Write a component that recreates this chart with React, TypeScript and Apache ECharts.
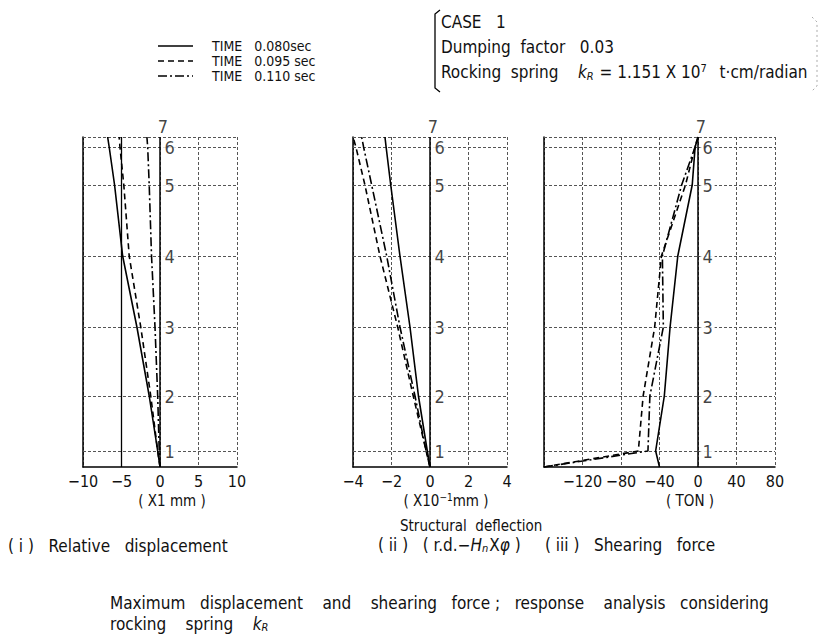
import React, { useEffect, useRef } from "react";
import * as echarts from "echarts";

// ---- data ----
const levelNames = ["1", "2", "3", "4", "5", "6", "7"];
// heights of base (index 0) and levels 1..7 (m)
const levelHeights = [0, 1.6, 7.1, 14.0, 21.1, 28.2, 32.0, 33.0];

const timeLabels = ["0.080", "0.095", "0.110"];

// (i) Relative displacement (x1 mm), base..7
const relDisp080 = [0, -0.3, -1.4, -3.0, -4.85, -5.9, -6.6, -6.8];
const relDisp095 = [0, -0.3, -1.2, -2.5, -4.0, -4.7, -5.2, -5.3];
const relDisp110 = [0, -0.1, -0.3, -0.65, -1.1, -1.4, -1.6, -1.7];

// (ii) Structural deflection (x10^-1 mm), base..7
const struct080 = [0, -0.14, -0.6, -1.04, -1.56, -2.04, -2.28, -2.34];
const struct095 = [0, -0.2, -0.87, -1.68, -2.6, -3.38, -3.85, -4.0];
const struct110 = [0, -0.2, -0.78, -1.56, -2.25, -3.03, -3.45, -3.55];

// (iii) Shearing force (TON), base..7
const shear080 = [-40, -44, -35, -29, -21, -6, -3, 0];
const shear095 = [-160, -62, -57, -45, -38, -13, -3, 0];
const shear110 = [-160, -52, -50, -36, -37, -17, -3, 0];

const FONT = "'DejaVu Sans Condensed', 'DejaVu Sans', sans-serif";
const INK = "#111";
const dashStyles: any[] = ["solid", [6, 4], [9, 3, 2, 3]];

const panels = [
  { left: 83, width: 154, min: -10, max: 10, interval: 5, series: [relDisp080, relDisp095, relDisp110], unit: "( X1 mm )", unitX: 172, extraSolid: [-5] },
  { left: 353, width: 154, min: -4, max: 4, interval: 2, series: [struct080, struct095, struct110], unit: "( X10{sup|\u22121}mm )", unitX: 446, extraSolid: [] as number[] },
  { left: 544, width: 231, min: -160, max: 80, interval: 40, series: [shear080, shear095, shear110], unit: "( TON )", unitX: 690, extraSolid: [] as number[] },
];

const GRID_TOP = 137;
const GRID_H = 330;
const topH = levelHeights[levelHeights.length - 1];

function fmt(v: number) {
  return v < 0 ? "\u2212" + Math.abs(v) : String(v);
}

export default function App() {
  const ref = useRef<HTMLDivElement>(null);
  useEffect(() => {
    if (!ref.current) return;
    const chart = echarts.init(ref.current, undefined, { renderer: "svg" });

    const grid: any[] = [];
    const xAxis: any[] = [];
    const yAxis: any[] = [];
    const series: any[] = [];
    const gridLine = { type: [3, 2], color: "#555", width: 1 };

    panels.forEach((p, i) => {
      grid.push({ left: p.left, top: GRID_TOP, width: p.width, height: GRID_H, containLabel: false });
      xAxis.push({
        type: "value",
        gridIndex: i,
        min: p.min,
        max: p.max,
        interval: p.interval,
        axisLine: { show: true, onZero: false, lineStyle: { color: "#000", width: 1.5 } },
        axisTick: { show: false },
        axisLabel: {
          fontSize: 16,
          color: INK,
          fontFamily: FONT,
          margin: 6,
          formatter: fmt,
          showMinLabel: i !== 2,
        },
        splitLine: { show: true, lineStyle: gridLine },
      });
      yAxis.push({
        type: "value",
        gridIndex: i,
        min: 0,
        max: topH,
        axisLine: { show: true, onZero: false, lineStyle: { color: "#000", width: 1.5 } },
        axisTick: { show: false },
        axisLabel: { show: false },
        splitLine: { show: false },
      });

      const markData: any[] = [];
      for (let k = 1; k < levelHeights.length; k++) {
        markData.push({ yAxis: levelHeights[k], lineStyle: { type: [3, 2], color: "#555", width: 1 } });
      }
      markData.push({ xAxis: 0, lineStyle: { type: "solid", color: "#000", width: 1.5 } });
      p.extraSolid.forEach((v) => markData.push({ xAxis: v, lineStyle: { type: "solid", color: "#000", width: 1.3 } }));

      p.series.forEach((vals, s) => {
        series.push({
          type: "line",
          name: "TIME " + timeLabels[s],
          xAxisIndex: i,
          yAxisIndex: i,
          data: vals.map((v, k) => [v, levelHeights[k]]),
          showSymbol: false,
          symbol: "none",
          lineStyle: { color: "#000", width: 1.6, type: dashStyles[s] },
          z: 4,
          markLine:
            s === 0
              ? { silent: true, symbol: ["none", "none"], label: { show: false }, data: markData, z: 2 }
              : undefined,
        });
      });

      series.push({
        type: "scatter",
        xAxisIndex: i,
        yAxisIndex: i,
        symbolSize: 1,
        itemStyle: { color: "rgba(0,0,0,0)" },
        z: 6,
        silent: true,
        label: {
          show: true,
          position: "right",
          distance: 2,
          fontSize: 18,
          color: INK,
          fontFamily: FONT,
          backgroundColor: "#fff",
          padding: [0, 2],
          formatter: (pr: any) => pr.data.name,
        },
        data: levelNames.map((n, k) => {
          const last = k === levelNames.length - 1;
          return {
            name: n,
            value: [0, levelHeights[k + 1]],
            label: last ? { position: "top", distance: 1, offset: [3, 0], backgroundColor: "transparent" } : undefined,
          };
        }),
      });
    });

    const txt = (x: number, y: number, text: string, fontSize: number, extra: any = {}) => ({
      type: "text",
      x,
      y,
      silent: true,
      style: {
        text,
        fontSize,
        fontFamily: FONT,
        fill: INK,
        verticalAlign: "middle",
        ...extra,
      },
    });

    const graphic: any[] = [];

    // axis unit labels
    panels.forEach((p) => {
      graphic.push(
        txt(p.unitX, 501, p.unit, 15, {
          align: "center",
          rich: { sup: { fontSize: 10, fontFamily: FONT, fill: INK, padding: [0, 0, 7, 0] } },
        })
      );
    });

    // legend
    const legendRows = [46, 61, 76];
    legendRows.forEach((y, s) => {
      graphic.push({
        type: "line",
        silent: true,
        shape: { x1: 158, y1: y, x2: 193, y2: y },
        style: { stroke: "#000", lineWidth: 1.5, lineDash: s === 0 ? null : dashStyles[s] },
      });
      graphic.push(txt(212, y, "TIME   " + timeLabels[s] + (s === 0 ? "sec" : " sec"), 14, { lineHeight: 14 }));
    });

    // CASE bracket
    graphic.push({
      type: "polyline",
      silent: true,
      shape: { points: [[440, 10], [435, 14], [435, 88], [440, 92]] },
      style: { stroke: "#000", lineWidth: 1.3, fill: null },
    });
    graphic.push({
      type: "polyline",
      silent: true,
      shape: { points: [[812, 17], [817, 22], [817, 86], [812, 91]] },
      style: { stroke: "#aaa", lineWidth: 1, fill: null, lineDash: [2, 3] },
    });
    graphic.push(txt(441, 22, "CASE   1", 17));
    graphic.push(txt(441, 47, "Dumping  factor   0.03", 17));
    graphic.push(
      txt(441, 72, "Rocking  spring    {i|k}{sub|R} = 1.151 X 10{sup|7}  t\u00b7cm/radian", 17, {
        rich: {
          i: { fontSize: 17, fontStyle: "italic", fontFamily: FONT, fill: INK },
          sub: { fontSize: 11, fontStyle: "italic", fontFamily: FONT, fill: INK, padding: [8, 1, 0, 0] },
          sup: { fontSize: 11, fontFamily: FONT, fill: INK, padding: [0, 3, 8, 0] },
        },
      })
    );

    // captions
    const richKH = {
      i: { fontSize: 17, fontStyle: "italic", fontFamily: FONT, fill: INK },
      sub: { fontSize: 11, fontStyle: "italic", fontFamily: FONT, fill: INK, padding: [6, 1, 0, 0] },
    };
    graphic.push(txt(8, 546, "( i )   Relative   displacement", 17));
    graphic.push(txt(400, 526, "Structural  deflection", 15));
    graphic.push(txt(378, 545, "( ii )   ( r.d.\u2212{i|H}{sub|n}X{i|\u03c6} )", 17, { rich: richKH }));
    graphic.push(txt(545, 545, "( iii )   Shearing   force", 17));
    graphic.push(
      txt(110, 603, "Maximum   displacement    and    shearing   force ;   response    analysis   considering", 17)
    );
    graphic.push(txt(110, 624, "rocking    spring    {i|k}{sub|R}", 17, { rich: richKH }));

    chart.setOption({
      animation: false,
      backgroundColor: "#fff",
      textStyle: { fontFamily: FONT },
      grid,
      xAxis,
      yAxis,
      series,
      graphic,
    });
    return () => chart.dispose();
  }, []);
  return <div ref={ref} style={{ position: "fixed", left: 0, top: 0, width: 821, height: 634, background: "#fff" }} />;
}
